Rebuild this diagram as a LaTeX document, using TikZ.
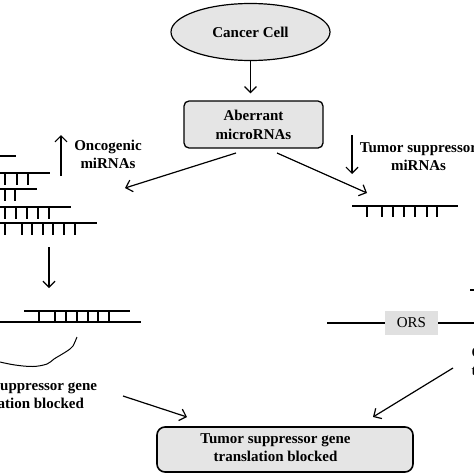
\documentclass[tikz,border=0pt]{standalone}
\usepackage{fontspec}
\setmainfont{Liberation Serif}
\usetikzlibrary{shapes.geometric,arrows.meta}
\definecolor{boxgray}{gray}{0.9}
\definecolor{orsgray}{gray}{0.88}
\begin{document}
\begin{tikzpicture}[x=1pt,y=-1pt,
  lbl/.style={font=\fontsize{15}{18}\selectfont\bfseries, align=center, inner sep=0pt},
  arr/.style={line width=1.2pt, -{Straight Barb[length=6pt,width=12pt,line width=1.2pt]}},
  strand/.style={line width=1.4pt},
  rung/.style={line width=1.2pt},
  box/.style={draw, line width=1.3pt, fill=boxgray, rounded corners=5pt, inner sep=0pt}]
\useasboundingbox (0,0) rectangle (474,474);
\clip (0,0) rectangle (474,474);

% top
\node[ellipse, draw, line width=1.2pt, fill=boxgray, minimum width=159pt, minimum height=57pt, lbl] (cell) at (250.5,32) {Cancer Cell};
\node[box, minimum width=139pt, minimum height=47pt, lbl] (aber) at (253.5,124.5) {Aberrant\\[1pt]microRNAs};
\draw[arr, shorten >=7pt] (cell.south) -- (cell.south |- aber.north);

% branch arrows
\coordinate (aL) at (236,153);
\coordinate (aR) at (277,153);
\coordinate (stackL) at (125,188);
\coordinate (stackR) at (367,193);
\draw[arr] (aL) -- (stackL);
\draw[arr] (aR) -- (stackR);

% oncogenic
\coordinate (oncB) at (61,176);
\coordinate (oncT) at (61,135);
\draw[arr] (oncB) -- (oncT);
\node[lbl] (onc) at (108,154) {Oncogenic\\miRNAs};

% tumor suppressor
\coordinate (tsT) at (352,135);
\coordinate (tsB) at (352,174);
\draw[arr] (tsT) -- (tsB);
\node[lbl] (ts) at (418.5,156.5) {Tumor suppressor\\miRNAs};

% left stack of miRNAs
\draw[strand] (0,156) -- (16,156);
\draw[strand] (0,173) -- (50,173);
\foreach \x in {5,17,28} \draw[rung] (\x,173) -- (\x,185);
\draw[strand] (0,189) -- (37,189);
\foreach \x in {5,15} \draw[rung] (\x,189) -- (\x,201);
\draw[strand] (0,207) -- (71,207);
\foreach \x in {5,16,27,38,49} \draw[rung] (\x,207) -- (\x,219);
\draw[strand] (0,223) -- (97,223);
\foreach \x in {5,22,32,43,53,64,75} \draw[rung] (\x,223) -- (\x,235);

% right single miRNA
\draw[strand] (352,206) -- (458,206);
\foreach \x in {367,382,393,404,415,427,437} \draw[rung] (\x,206) -- (\x,217);

% left down arrow
\coordinate (ldT) at (49,247);
\coordinate (ldB) at (49,288);
\draw[arr] (ldT) -- (ldB);

% left duplex
\draw[strand] (24,311) -- (130,311);
\draw[strand] (0,322) -- (141,322);
\foreach \x in {39,55,66,77,88,98,109} \draw[rung] (\x,311) -- (\x,322);
\draw[line width=1pt] plot[smooth, tension=0.6] coordinates {(77,337) (73,346) (70,349) (64,353) (54,359) (47,364) (33,366.5) (15,365) (0,362)};
\node[lbl] (lres) at (22,395) {Tumor suppressor gene\\translation blocked};

% right ORS
\node[fill=orsgray, minimum width=53pt, minimum height=24pt, inner sep=0pt, font=\fontsize{15}{18}\selectfont] (ors) at (411.5,323) {ORS};
\coordinate (orsL) at (327,323);
\coordinate (orsR) at (474,323);
\draw[strand] (orsL) -- (ors.west);
\draw[strand] (ors.east) -- (orsR);
\draw[line width=1.2pt] (470,290) -- (474,290);
\node[lbl, align=left, anchor=north west] (rres) at (471.5,347) {Oncogene\\translation};

% bottom result
\node[box, rounded corners=8pt, line width=1.6pt, minimum width=256pt, minimum height=45pt] (res) at (285,449.5) {};
\node[lbl] (restxt) at (275.5,448) {Tumor suppressor gene\\translation blocked};
\coordinate (lb) at (123,396);
\coordinate (rb) at (453,368);
\coordinate (lt) at (187,417);
\coordinate (rt) at (373,417);
\draw[arr] (lb) -- (lt);
\draw[arr] (rb) -- (rt);
\end{tikzpicture}
\end{document}
